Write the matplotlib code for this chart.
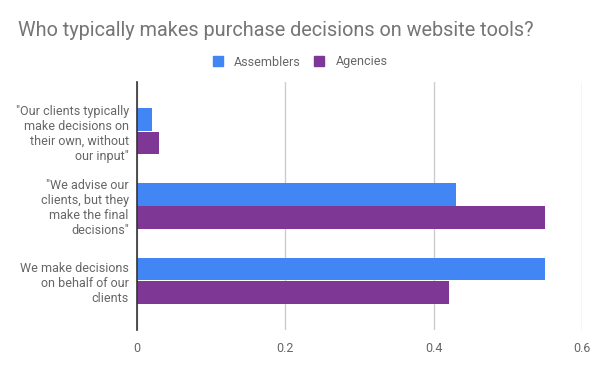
import numpy as np
import matplotlib.pyplot as plt
from matplotlib.patches import Patch

plt.rcParams['font.family'] = ['Roboto', 'DejaVu Sans']

categories = ['"Our clients typically\nmake decisions on\ntheir own, without\nour input"',
              '"We advise our\nclients, but they\nmake the final\ndecisions"',
              'We make decisions\non behalf of our\nclients']
assemblers = [0.02, 0.43, 0.55]
agencies = [0.03, 0.55, 0.42]

blue = '#4285F4'
purple = '#7E3794'

fig = plt.figure(figsize=(6, 3.71), dpi=100)
ax = fig.add_axes([137 / 600, 1 - 330 / 371, (582 - 137) / 600, (330 - 82) / 371])

y = np.arange(len(categories))
h = 0.305
ax.barh(y - h / 2 - 0.005, assemblers, height=h, color=blue, label='Assemblers', zorder=3)
ax.barh(y + h / 2 + 0.005, agencies, height=h, color=purple, label='Agencies', zorder=3)

ax.set_ylim(2.66, -0.66)
ax.set_xlim(0, 0.6)
ax.set_xticks([0, 0.2, 0.4, 0.6])
ax.set_xticklabels(['0', '0.2', '0.4', '0.6'])
ax.set_yticks(y)
ax.set_yticklabels(categories, linespacing=1.2, ha='right')

ax.grid(axis='x', color='#cccccc', linewidth=1, zorder=0)
for s in ['top', 'right', 'bottom']:
    ax.spines[s].set_visible(False)
ax.spines['left'].set_color('#333333')
ax.spines['left'].set_linewidth(1.2)
ax.spines['left'].set_zorder(4)
ax.tick_params(axis='both', length=0, labelsize=9, colors='#666666')
ax.tick_params(axis='y', pad=6)
ax.tick_params(axis='x', pad=9)

fig.text(18 / 600, 1 - 31 / 371, 'Who typically makes purchase decisions on website tools?',
         fontsize=14.3, color='#757575', va='center', ha='left')

handles = [Patch(color=blue, label='Assemblers'), Patch(color=purple, label='Agencies')]
fig.legend(handles=handles, loc='center', bbox_to_anchor=(0.5, 1 - 62 / 371), ncol=2,
           frameon=False, fontsize=9, labelcolor='#666666', handlelength=0.8,
           handleheight=0.8, handletextpad=0.9, columnspacing=1.1)

fig.savefig('out.png', dpi=100, facecolor='white')
